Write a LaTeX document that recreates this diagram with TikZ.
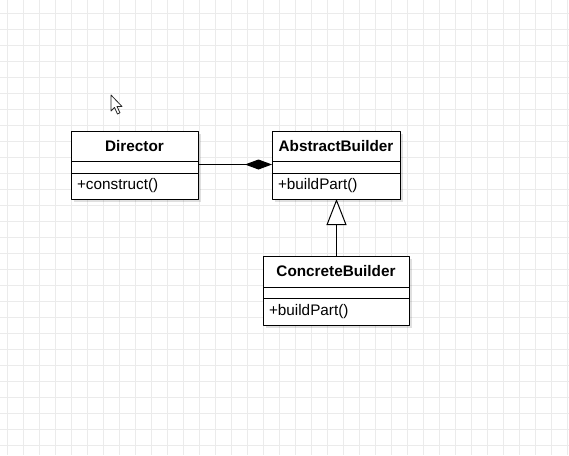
\documentclass[tikz,border=0pt]{standalone}
\usepackage{fontspec}
\setmainfont{Liberation Sans}
\usetikzlibrary{positioning,arrows.meta,shadows}
\definecolor{gridgray}{HTML}{EBEBEB}
\newcommand{\umlfont}{\fontsize{15.3}{18}\selectfont}
\tikzset{
  classpart/.style={draw, fill=white, line width=1pt, inner sep=0pt, outer sep=0pt,
    drop shadow={shadow xshift=3pt, shadow yshift=-3pt, opacity=0.12, fill=black}},
  classname/.style={classpart, font=\umlfont\bfseries, minimum height=30pt},
  classattr/.style={classpart, minimum height=12pt},
  classops/.style={classpart, font=\umlfont, align=left, inner xsep=6pt, minimum height=26pt},
}
\begin{document}
\begin{tikzpicture}[x=1pt, y=-1pt, line join=round, >=stealth]
    \useasboundingbox (0,0) rectangle (569,455);
    \fill[white] (0,0) rectangle (569,455);
    \foreach \x in {7,23,...,567} \draw[gridgray, line width=1pt] (\x,0) -- (\x,455);
    \foreach \y in {13,29,...,453} \draw[gridgray, line width=1pt] (0,\y) -- (569,\y);
    % mouse pointer
    \draw[black!85, fill=white, line width=0.8pt] (111,95) -- (111,111) -- (114.5,107.5) -- (117.5,114) -- (120,112.8) -- (117,106.5) -- (122,106.5) -- cycle;
    % classes
    \node[classname, minimum width=127pt, anchor=north west] (director) at (71,131) {Director};
    \node[classattr, minimum width=127pt, below=0pt of director] (directorattr) {};
    \node[classops, text width=115pt, below=0pt of directorattr] (directorops) {+construct()};
    \node[classname, minimum width=128pt, anchor=north west] (abstract) at (272,131) {AbstractBuilder};
    \node[classattr, minimum width=128pt, below=0pt of abstract] (abstractattr) {};
    \node[classops, text width=116pt, below=0pt of abstractattr] (abstractops) {+buildPart()};
    \node[classname, minimum width=146pt, minimum height=31pt, anchor=north west] (concrete) at (263,256) {ConcreteBuilder};
    \node[classattr, minimum width=146pt, minimum height=11pt, below=0pt of concrete] (concreteattr) {};
    \node[classops, text width=134pt, minimum height=27pt, below=0pt of concreteattr] (concreteops) {+buildPart()};
    % composition
    \draw[line width=1pt, -{Diamond[length=27pt, width=10pt, fill=black]}]
      ([yshift=2.5pt]directorattr.east) -- ([yshift=2.5pt]abstractattr.west);
    % generalization
    \draw[line width=1pt, -{Triangle[open, length=26pt, width=20pt, fill=white]}]
      ([xshift=0.5pt]concrete.north) -- ([xshift=0.5pt]abstractops.south);
\end{tikzpicture}
\end{document}
